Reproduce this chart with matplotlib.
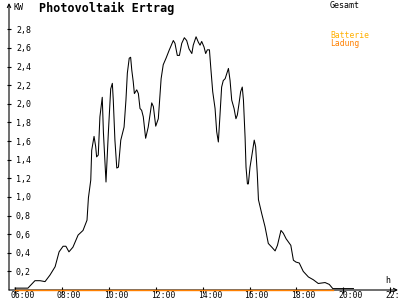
import matplotlib
matplotlib.use("Agg")
import matplotlib.pyplot as plt
import matplotlib.transforms as mtransforms

# Gesamt (kW) over time of day (h)
hours = [6.00, 6.55, 6.85, 7.07, 7.28, 7.49, 7.71, 7.88, 8.05, 8.17, 8.30, 8.47, 8.69, 8.90,
         9.07, 9.13, 9.23, 9.27, 9.37, 9.44, 9.48, 9.55, 9.62, 9.72, 9.77, 9.88, 9.98,
         10.08, 10.15, 10.19, 10.26, 10.34, 10.41, 10.51, 10.65, 10.73, 10.79, 10.87, 10.93,
         10.98, 11.04, 11.09, 11.19, 11.26, 11.33, 11.40, 11.47, 11.57, 11.68, 11.83, 11.90,
         12.00, 12.11, 12.15, 12.23, 12.32, 12.44, 12.58, 12.75, 12.82, 12.92, 13.01, 13.11,
         13.22, 13.32, 13.42, 13.54, 13.60, 13.72, 13.82, 13.89, 13.96, 14.06, 14.13, 14.20,
         14.29, 14.35, 14.43, 14.53, 14.60, 14.67, 14.74, 14.81, 14.88, 14.96, 15.10, 15.17,
         15.24, 15.34, 15.42, 15.48, 15.55, 15.62, 15.69, 15.74, 15.81, 15.85, 15.91, 15.95,
         16.02, 16.09, 16.20, 16.26, 16.33, 16.38, 16.52, 16.66, 16.80, 16.95, 17.09, 17.19,
         17.34, 17.44, 17.56, 17.76, 17.87, 17.98, 18.12, 18.29, 18.51, 18.72, 18.93, 19.22,
         19.40, 19.55, 20.43]
gesamt = [0.02, 0.02, 0.10, 0.10, 0.09, 0.16, 0.25, 0.41, 0.47, 0.47, 0.41, 0.46, 0.59, 0.64,
          0.75, 0.99, 1.18, 1.50, 1.65, 1.54, 1.43, 1.45, 1.86, 2.07, 1.69, 1.16, 1.69,
          2.16, 2.22, 2.04, 1.61, 1.31, 1.32, 1.61, 1.75, 2.04, 2.33, 2.49, 2.50,
          2.36, 2.24, 2.11, 2.15, 2.11, 1.95, 1.93, 1.86, 1.63, 1.75, 2.01, 1.97,
          1.76, 1.84, 1.98, 2.27, 2.42, 2.49, 2.58, 2.68, 2.65, 2.52, 2.52, 2.65,
          2.71, 2.68, 2.59, 2.54, 2.63, 2.72, 2.66, 2.63, 2.67, 2.61, 2.54, 2.58,
          2.58, 2.38, 2.13, 1.95, 1.70, 1.59, 1.88, 2.18, 2.25, 2.27, 2.38, 2.25,
          2.04, 1.95, 1.84, 1.88, 2.00, 2.13, 2.18, 2.04, 1.64, 1.32, 1.14, 1.14,
          1.32, 1.43, 1.61, 1.54, 1.25, 0.97, 0.82, 0.68, 0.50, 0.46, 0.42, 0.48,
          0.64, 0.61, 0.55, 0.48, 0.32, 0.30, 0.29, 0.20, 0.14, 0.11, 0.07, 0.08,
          0.06, 0.015, 0.015]

# Batterie Ladung
lad_hours = [6.0, 19.55]
ladung = [0.0, 0.0]

xticks = [6, 8, 10, 12, 14, 16, 18, 20, 22]
xlabels = ["06:00", "08:00", "10:00", "12:00", "14:00", "16:00", "18:00", "20:00", "22:00"]
yticks = [0.2, 0.4, 0.6, 0.8, 1.0, 1.2, 1.4, 1.6, 1.8, 2.0, 2.2, 2.4, 2.6, 2.8]
ylabels = ["0,2", "0,4", "0,6", "0,8", "1,0", "1,2", "1,4", "1,6", "1,8", "2,0",
           "2,2", "2,4", "2,6", "2,8"]

mono = "DejaVu Sans Mono"
fig = plt.figure(figsize=(4, 3), dpi=100)
ax = fig.add_axes([9 / 400, 10 / 300, 389 / 400, 287 / 300])
ax.set_xlim(5.744, 22.33)
ax.set_ylim(0, 3.083)

ax.plot(hours, gesamt, color="black", lw=0.75, zorder=4)
ax.plot(lad_hours, ladung, color="#FF8000", lw=1.0, clip_on=False, zorder=6)

for s in ["top", "right", "left", "bottom"]:
    ax.spines[s].set_visible(False)
ax.annotate("", xy=(0, 1), xytext=(0, 0), xycoords="axes fraction",
            arrowprops=dict(arrowstyle="->", lw=0.8, color="black", shrinkA=0, shrinkB=0,
                            mutation_scale=6), zorder=2)
ax.annotate("", xy=(1, 0), xytext=(0, 0), xycoords="axes fraction",
            arrowprops=dict(arrowstyle="->", lw=0.8, color="black", shrinkA=0, shrinkB=0,
                            mutation_scale=6), zorder=2)

ax.set_xticks(xticks)
ax.set_xticklabels(xlabels, fontsize=5.8, family=mono, ha="left")
ax.set_yticks(yticks)
ax.set_yticklabels(ylabels, fontsize=6, family=mono, ha="left")
ax.tick_params(axis="x", direction="inout", length=4, width=0.8, pad=-1.2)
ax.tick_params(axis="y", direction="inout", length=3, width=0.8, pad=-6.5)
off = mtransforms.ScaledTranslation(-5 / 100, 0, fig.dpi_scale_trans)
for lbl in ax.get_xticklabels():
    lbl.set_transform(lbl.get_transform() + off)

fig.text(13 / 400, 1 - 10 / 300, "KW", fontsize=6, family=mono, va="baseline")
fig.text(39 / 400, 1 - 12 / 300, "Photovoltaik Ertrag", fontsize=8.5, family=mono,
         weight="bold", va="baseline")
fig.text(330 / 400, 1 - 8 / 300, "Gesamt", fontsize=6, family=mono, va="baseline")
fig.text(330 / 400, 1 - 38.5 / 300, "Batterie", fontsize=5.8, family=mono, va="baseline",
         color="#FFB000")
fig.text(330 / 400, 1 - 46.5 / 300, "Ladung", fontsize=5.8, family=mono, va="baseline",
         color="#FF8000")
fig.text(385 / 400, 1 - 285 / 300, "h", fontsize=6, family=mono, va="bottom")

fig.savefig("out.png", dpi=100)
